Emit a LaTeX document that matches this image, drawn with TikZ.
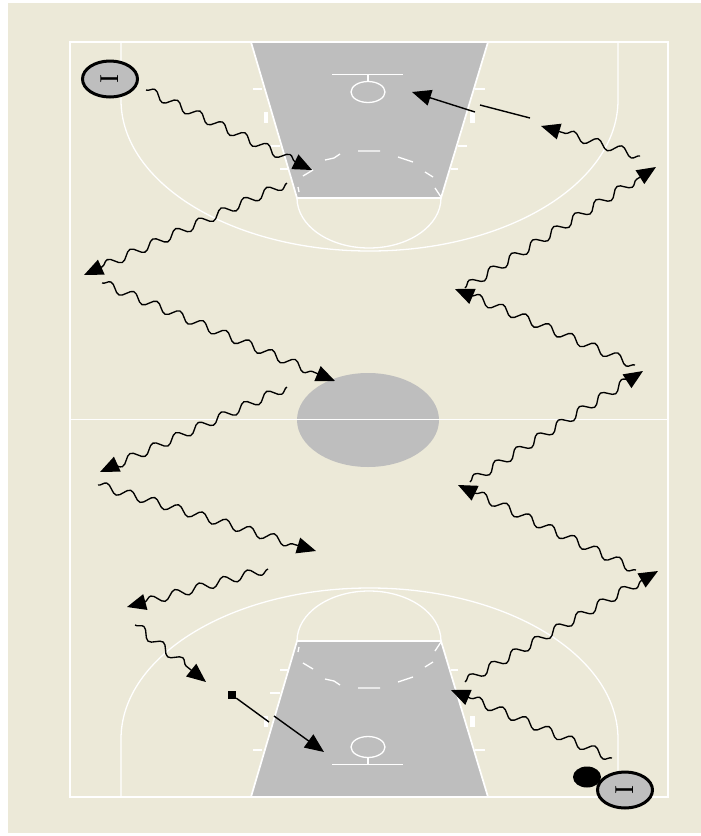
\documentclass[tikz,border=0pt]{standalone}
\usepackage{fontspec}
\setmainfont{Liberation Serif}
\usetikzlibrary{arrows.meta,decorations.pathmorphing,shapes.geometric}
\definecolor{courtbg}{HTML}{ECE9D8}
\definecolor{lanegray}{HTML}{BEBEBE}
\tikzset{
  courtline/.style={draw=white,line width=1.7pt},
  thinline/.style={draw=white,line width=1.3pt},
  wave/.style={draw=black,line width=1.35pt,
    -{Triangle[length=19pt,width=16pt]},
    decorate,decoration={snake,segment length=25pt,amplitude=4.4pt,post length=13pt}},
  passline/.style={draw=black,line width=1.4pt},
  passhead/.style={draw=black,line width=1.4pt,-{Triangle[length=19pt,width=16pt]}},
  player/.style={ellipse,draw=black,line width=3pt,fill=lanegray,minimum width=55pt,minimum height=36pt,inner sep=0pt},
  ball/.style={ellipse,fill=black,minimum width=28pt,minimum height=21pt,inner sep=0pt},
  startsq/.style={rectangle,fill=black,minimum size=8pt,inner sep=0pt},
  playerlabel/.style={rotate=90,font=\fontsize{27}{27}\selectfont,inner sep=0pt}
}
\newcommand{\halfcourt}{%
  \fill[lanegray] (251,42) -- (488,42) -- (441,198) -- (297,198) -- cycle;
  \draw[courtline] (251,42) -- (297,198) -- (441,198) -- (488,42);
  \draw[thinline] (121,42) -- (121,100) arc[start angle=180,end angle=360,x radius=248.5pt,y radius=151pt] -- (618,42);
  \draw[thinline] (297,198) arc[start angle=180,end angle=360,x radius=72pt,y radius=50pt];
  \draw[thinline] (332,74.5) -- (403,74.5) (368,74.5) -- (368,81);
  \draw[thinline] (368,92) ellipse[x radius=17pt,y radius=10.5pt];
  \draw[thinline] (358,151) -- (380,151)
    (325,160) -- (334,158) -- (340,154)
    (303,176) -- (313,170)
    (298,187) -- (299,192)
    (398,157) -- (413,162)
    (425,172) -- (433,177)
    (435,188) -- (441,197);
  \draw[thinline] (253,89) -- (262,89) (270,146) -- (280,146) (280,169) -- (288,169);
  \draw[thinline] (475,89) -- (485,89) (458,146) -- (467,146) (451,169) -- (458,169);
  \fill[white] (264,112) rectangle (268,123);
  \fill[white] (470,112) rectangle (475,123);
}
\begin{document}
\begin{tikzpicture}[x=1pt,y=-1pt]
\useasboundingbox (0,0) rectangle (701,836);
\fill[white] (0,0) rectangle (701,836);
\fill[courtbg] (8,3) rectangle (701,833);
\halfcourt
\begin{scope}[yscale=-1,yshift=839pt]
\halfcourt
\end{scope}
\fill[lanegray] (368,420) ellipse[x radius=71pt,y radius=47pt];
\draw[courtline] (70,42) rectangle (668,797);
\draw[courtline] (70,419.5) -- (668,419.5);

\node[player] (p1) at (110,79) {};
\node[playerlabel] (p1t) at (110,79) {I};
\node[ball] (b) at (587,777) {};
\node[player] (p2) at (625,790) {};
\node[playerlabel] (p2t) at (625,790) {I};
\node[startsq] (sq) at (232,695) {};

\coordinate (a1s) at (146,90);  \coordinate (a1e) at (312,170);
\coordinate (a2s) at (287,183); \coordinate (a2e) at (84,275);
\coordinate (a3s) at (102,283); \coordinate (a3e) at (335,381);
\coordinate (a4s) at (287,387); \coordinate (a4e) at (100,472);
\coordinate (a5s) at (98,485);  \coordinate (a5e) at (316,551);
\coordinate (a6s) at (268,569); \coordinate (a6e) at (127,607);
\coordinate (a7s) at (135,625); \coordinate (a7e) at (206,682);
\coordinate (a9s) at (640,156); \coordinate (a9e) at (541,126);
\coordinate (a10s) at (465,288); \coordinate (a10e) at (656,167);
\coordinate (a11s) at (635,365); \coordinate (a11e) at (455,289);
\coordinate (a12s) at (470,482); \coordinate (a12e) at (643,371);
\coordinate (a13s) at (636,570); \coordinate (a13e) at (458,485);
\coordinate (a14s) at (465,682); \coordinate (a14e) at (658,571);
\coordinate (a15s) at (612,758); \coordinate (a15e) at (451,690);
\foreach \n in {1,2,3,4,5,6,7,9,10,11,12,13,14,15}
  \draw[wave] (a\n s) -- (a\n e);

\coordinate (t1) at (530,118); \coordinate (t2) at (480,105);
\coordinate (t3) at (475,112); \coordinate (t4) at (412,92);
\draw[passline] (t1) -- (t2);
\draw[passhead] (t3) -- (t4);
\coordinate (s2) at (269,722); \coordinate (s3) at (274,716); \coordinate (s4) at (324,752);
\draw[passline] (sq) -- (s2);
\draw[passhead] (s3) -- (s4);
\end{tikzpicture}
\end{document}
